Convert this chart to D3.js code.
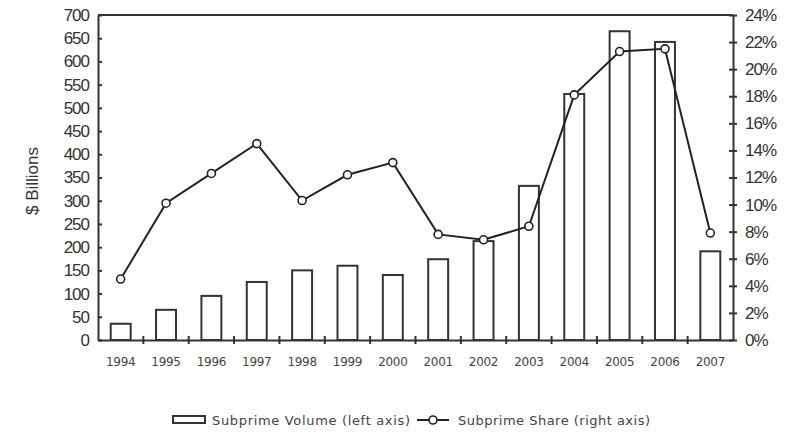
<!DOCTYPE html>
<html>
<head>
<meta charset="utf-8">
<script src="https://cdn.jsdelivr.net/npm/d3@7"></script>
<style>
  body { margin: 0; background: #fff; }
  svg { font-family: "Liberation Sans", Arial, sans-serif; }
</style>
</head>
<body>
<svg id="chart" width="802" height="432"></svg>
<script>
"use strict";

// data
const years = ["1994", "1995", "1996", "1997", "1998", "1999", "2000", "2001", "2002", "2003", "2004", "2005", "2006", "2007"];
const volume = [35, 65, 95, 125, 150, 160, 140, 174, 213, 332, 530, 665, 642, 191];
const share = [4.5, 10.1, 12.3, 14.5, 10.3, 12.2, 13.1, 7.8, 7.4, 8.4, 18.1, 21.3, 21.5, 7.9];
const leftTicks = [0, 50, 100, 150, 200, 250, 300, 350, 400, 450, 500, 550, 600, 650, 700];
const rightTicks = [0, 2, 4, 6, 8, 10, 12, 14, 16, 18, 20, 22, 24];

const LEFT = 98, RIGHT = 733, TOP = 15, BOTTOM = 340;
const INK = "#333";

const svg = d3.select("#chart");

const x = d3.scaleBand()
  .domain(years)
  .range([LEFT, RIGHT])
  .paddingInner(0.56)
  .paddingOuter(0.28);

const xOuter = d3.scaleBand().domain(years).range([LEFT, RIGHT]);

const yL = d3.scaleLinear().domain([0, 700]).range([BOTTOM, TOP]);
const yR = d3.scaleLinear().domain([0, 24]).range([BOTTOM, TOP]);

// bars
svg.append("g")
  .selectAll("rect")
  .data(volume)
  .enter()
  .append("rect")
  .attr("x", function(d, i) { return x(years[i]); })
  .attr("y", function(d) { return yL(d); })
  .attr("width", x.bandwidth())
  .attr("height", function(d) { return BOTTOM - yL(d); })
  .attr("fill", "#fff")
  .attr("stroke", INK)
  .attr("stroke-width", 2);

// frame
svg.append("line").attr("x1", LEFT).attr("x2", RIGHT).attr("y1", TOP).attr("y2", TOP)
  .attr("stroke", INK).attr("stroke-width", 2);

// left axis
const leftAxis = svg.append("g")
  .attr("transform", "translate(" + LEFT + ",0)")
  .call(d3.axisLeft(yL).tickValues(leftTicks).tickSizeInner(4).tickSizeOuter(0).tickPadding(5));
leftAxis.selectAll(".tick line").attr("x2", 4);

// right axis
const rightAxis = svg.append("g")
  .attr("transform", "translate(" + RIGHT + ",0)")
  .call(d3.axisRight(yR).tickValues(rightTicks).tickFormat(function(d) { return d + "%"; })
    .tickSizeInner(4).tickSizeOuter(0).tickPadding(8));
rightAxis.selectAll(".tick line").attr("x2", -4).attr("x1", 4);

// bottom axis with ticks between the years
const bottomAxis = svg.append("g")
  .attr("transform", "translate(0," + BOTTOM + ")")
  .call(d3.axisBottom(xOuter).tickSize(0).tickPadding(17));
bottomAxis.selectAll(".tick line").remove();
bottomAxis.selectAll(".sep")
  .data(years.slice(1))
  .enter()
  .append("line")
  .attr("x1", function(d) { return xOuter(d); })
  .attr("x2", function(d) { return xOuter(d); })
  .attr("y1", -4)
  .attr("y2", 4)
  .attr("stroke", INK)
  .attr("stroke-width", 2);

[leftAxis, rightAxis, bottomAxis].forEach(function(g) {
  g.select(".domain").attr("stroke", INK).attr("stroke-width", 2);
  g.selectAll(".tick line").attr("stroke", INK).attr("stroke-width", 2);
  g.selectAll("text").attr("fill", "#333");
});
leftAxis.selectAll("text").attr("font-size", 17).attr("letter-spacing", -1);
rightAxis.selectAll("text").attr("font-size", 17).attr("letter-spacing", -1);
bottomAxis.selectAll("text")
  .attr("font-family", "'DejaVu Sans', sans-serif")
  .attr("font-size", 12)
  .attr("letter-spacing", -0.3)
  .attr("fill", "#444");

// axis title
svg.append("text")
  .attr("transform", "translate(38,181) rotate(-90)")
  .attr("text-anchor", "middle")
  .attr("font-size", 17)
  .attr("fill", "#333")
  .text("$ Billions");

// share line
const line = d3.line()
  .x(function(d, i) { return xOuter(years[i]) + xOuter.bandwidth() / 2; })
  .y(function(d) { return yR(d); });

svg.append("path")
  .datum(share)
  .attr("d", line)
  .attr("fill", "none")
  .attr("stroke", "#222")
  .attr("stroke-width", 2);

svg.append("g")
  .selectAll("circle")
  .data(share)
  .enter()
  .append("circle")
  .attr("cx", function(d, i) { return xOuter(years[i]) + xOuter.bandwidth() / 2; })
  .attr("cy", function(d) { return yR(d); })
  .attr("r", 4)
  .attr("fill", "#fff")
  .attr("stroke", "#222")
  .attr("stroke-width", 1.6);

// legend
const legend = svg.append("g")
  .attr("transform", "translate(0,420)")
  .attr("font-family", "'DejaVu Sans', sans-serif");
legend.append("rect")
  .attr("x", 173).attr("y", -4).attr("width", 32).attr("height", 7)
  .attr("fill", "#fff").attr("stroke", INK).attr("stroke-width", 2);
legend.append("text")
  .attr("x", 212).attr("y", 4.5)
  .attr("font-size", 13).attr("fill", "#444")
  .attr("textLength", 198).attr("lengthAdjust", "spacing")
  .text("Subprime Volume (left axis)");
legend.append("line")
  .attr("x1", 417).attr("x2", 449).attr("y1", 0).attr("y2", 0)
  .attr("stroke", "#222").attr("stroke-width", 2);
legend.append("circle")
  .attr("cx", 433).attr("cy", 0).attr("r", 4)
  .attr("fill", "#fff").attr("stroke", "#222").attr("stroke-width", 1.6);
legend.append("text")
  .attr("x", 458).attr("y", 4.5)
  .attr("font-size", 13).attr("fill", "#444")
  .attr("textLength", 192).attr("lengthAdjust", "spacing")
  .text("Subprime Share (right axis)");
</script>
</body>
</html>
